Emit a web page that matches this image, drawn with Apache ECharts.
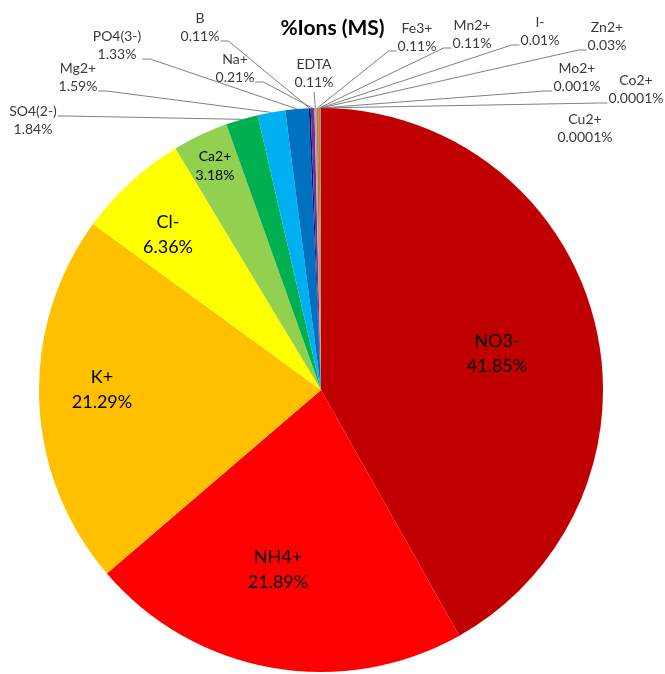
<!DOCTYPE html>
<html>
<head>
<meta charset="utf-8">
<script src="https://cdn.jsdelivr.net/npm/echarts@6/dist/echarts.min.js"></script>
<style>
  html, body { margin: 0; padding: 0; background: #fff; }
  #chart { width: 665px; height: 674px; }
</style>
</head>
<body>
<div id="chart"></div>
<script>
// ions, clockwise from 12 o'clock
const ions = ['NO3-', 'NH4+', 'K+', 'Cl-', 'Ca2+', 'SO4(2-)', 'Mg2+', 'PO4(3-)', 'B', 'Na+',
  'EDTA', 'Fe3+', 'Mn2+', 'I-', 'Zn2+', 'Mo2+', 'Co2+', 'Cu2+']
// % of the ionic mass
const shares = [41.85, 21.89, 21.29, 6.36, 3.18, 1.84, 1.59, 1.33, 0.11, 0.21,
  0.11, 0.11, 0.11, 0.01, 0.03, 0.001, 0.0001, 0.0001]
const sliceColors = ['#C00000', '#FF0000', '#FFC000', '#FFFF00', '#92D050', '#00B050', '#00B0F0',
  '#0070C0', '#002060', '#7030A0', '#A6A6C8', '#E46C0A', '#948A54', '#4F81BD', '#C0504D',
  '#9BBB59', '#8064A2', '#4BACC6']

// label centre [x, y] and where the leader line meets it
const labelSpots = [
  [497, 354, null], [278, 570, null], [102, 390, null], [168, 235, null], [215, 166, null],
  [33, 120, 'leftMid'], [78, 77, 'left'], [117, 45, 'left'], [200, 27, 'left'], [235, 68, 'left'],
  [314, 73, 'below'], [417, 37, 'right'], [472, 34, 'right'], [540, 31, 'right'], [607, 36, 'right'],
  [577, 77, 'right'], [636, 89, 'right'], [585, 128, null]
]

const insideCount = 5

const seriesData = ions.map((name, i) => {
  const item = { name: name, value: shares[i], itemStyle: { color: sliceColors[i] } }
  if (i < insideCount) {
    item.label = {
      position: 'inside',
      color: '#000',
      fontSize: i === 4 ? 14 : 18,
      lineHeight: i === 4 ? 19 : 25
    }
    item.labelLine = { show: false }
  }
  if (name === 'Cu2+') {
    item.labelLine = { show: false }
  }
  return item
})

let myChart = echarts.init(document.getElementById('chart'))
myChart.setOption({
  backgroundColor: '#fff',
  animation: false,
  textStyle: { fontFamily: 'Lato' },
  title: {
    text: '%Ions (MS)',
    left: 'center',
    top: 16,
    padding: 0,
    textStyle: {
      fontFamily: 'Lato',
      fontWeight: 'bold',
      fontSize: 21,
      lineHeight: 24,
      color: '#000'
    }
  },
  series: [{
    type: 'pie',
    center: [321, 390],
    radius: 282,
    startAngle: 90,
    clockwise: true,
    avoidLabelOverlap: false,
    minAngle: 0,
    itemStyle: { borderWidth: 0 },
    label: {
      show: true,
      position: 'outside',
      fontFamily: 'Lato',
      fontSize: 14,
      lineHeight: 18,
      color: '#3a3a3a',
      align: 'center',
      formatter: p => p.name + '\n' + shares[p.dataIndex] + '%'
    },
    labelLine: {
      show: true,
      lineStyle: { color: '#808080', width: 1 }
    },
    labelLayout: function (params) {
      const spot = labelSpots[params.dataIndex]
      const x = spot[0]
      const y = spot[1]
      const side = spot[2]
      const w = params.labelRect.width
      const h = params.labelRect.height
      const out = { x: x, y: y, align: 'center', verticalAlign: 'middle' }
      if (side && params.labelLinePoints) {
        const start = params.labelLinePoints[0]
        let end, bend
        if (side === 'left') {
          end = [x + w / 2 + 1, y + h / 2 - 4]
          bend = [end[0] + 8, end[1]]
        } else if (side === 'leftMid') {
          end = [x + w / 2 + 1, y - 4]
          bend = [end[0] + 8, end[1]]
        } else if (side === 'right') {
          end = [x - w / 2 - 1, y + h / 2 - 4]
          bend = [end[0] - 8, end[1]]
        } else {
          end = [x, y + h / 2 + 1]
          bend = [x, end[1] + 1]
        }
        out.labelLinePoints = [start, bend, end]
      }
      return out
    },
    data: seriesData
  }]
})
</script>
</body>
</html>
